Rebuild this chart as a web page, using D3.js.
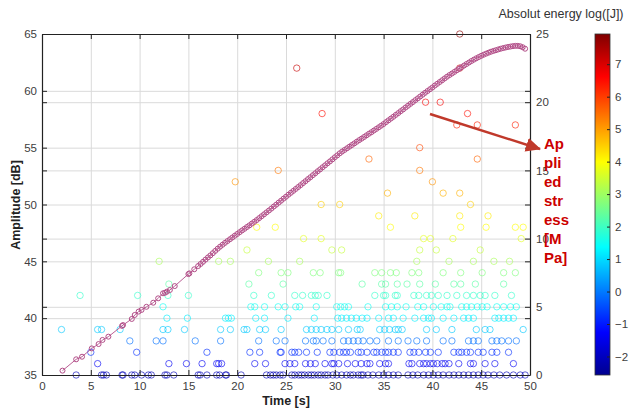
<!DOCTYPE html>
<html>
<head>
<meta charset="utf-8">
<script src="https://d3js.org/d3.v7.min.js"></script>
<style>
body{margin:0;background:#fff;}
svg text{font-family:"Liberation Sans",Arial,sans-serif;}
.grid line{stroke:#dadada;stroke-width:1}
.grid .domain{stroke:none}
.axis text{fill:#404040;font-size:11.5px}
.axis .domain{stroke:#222;stroke-width:1.2}
.axis line{stroke:#222}
.noline .domain{stroke:none}
</style>
</head>
<body>
<svg id="chart" width="630" height="410"></svg>
<script>
// tick values
const timeTicks = [0,5,10,15,20,25,30,35,40,45,50];
const ampTicks = [35,40,45,50,55,60,65];
const stressTicks = [0,5,10,15,20,25];
const energyTicks = [-2,-1,0,1,2,3,4,5,6,7];

// AE hits: times [s] for each amplitude level [dB]
const hits35 = [3.5,6.1,6.3,6.6,8.2,8.3,9.2,9.5,10.2,10.9,11.2,12.6,12.8,13.5,16.0,16.2,16.9,17.9,18.2,18.8,18.9,20.4,23.0,23.4,23.7,24.0,24.4,24.7,25.6,25.9,26.3,26.6,26.9,27.3,27.6,27.9,28.3,28.6,29.0,29.3,29.8,30.2,30.7,31.2,31.6,31.9,32.4,32.7,32.9,33.4,33.9,34.5,35.0,35.5,36.0,36.5,37.5,38.0,38.5,39.1,39.6,40.1,40.6,41.1,41.7,42.2,42.7,43.2,43.7,44.2,44.7,45.2,45.7,46.3,46.9,47.6,48.3,49.0,49.5];
const hits36 = [5.7,13.0,14.8,16.4,17.9,18.1,18.4,21.8,22.9,24.9,25.4,25.9,27.0,27.5,28.0,29.0,29.7,29.9,30.4,31.3,32.1,32.7,33.3,33.6,34.6,35.2,35.5,37.6,37.9,38.7,39.1,39.4,39.8,40.1,40.5,41.0,41.3,41.7,42.7,43.9,44.2,45.4,46.4,48.3];
const hits37 = [5.0,9.7,16.9,21.3,22.3,24.4,24.5,25.6,25.9,26.3,27.1,28.2,29.5,29.9,30.5,30.9,31.2,31.6,32.4,32.7,33.3,34.0,34.3,34.8,35.2,35.5,36.0,36.5,37.7,38.1,38.6,39.3,39.8,40.6,42.2,42.7,43.0,43.5,43.9,44.7,45.2,46.1,46.6,47.8];
const hits38 = [9.0,11.7,12.4,15.7,18.3,22.2,24.0,24.9,27.0,27.8,28.1,28.8,29.7,30.9,31.4,31.9,32.4,32.9,33.6,34.3,35.5,36.5,37.5,38.4,39.4,41.1,42.0,43.7,44.2,44.7,46.1,46.6,47.1,47.8,48.6];
const hits39 = [2.0,5.7,6.1,8.0,12.4,12.9,14.6,18.3,19.3,20.7,21.0,22.3,22.9,24.5,27.1,27.6,28.1,28.6,29.2,29.7,30.4,31.4,32.3,32.6,34.6,35.1,35.6,36.2,36.5,36.9,39.4,40.4,42.0,44.5,45.4,45.9,49.3];
const hits40 = [12.8,14.9,18.8,19.1,19.4,21.9,22.8,25.2,27.9,30.3,30.7,31.2,31.7,32.2,32.8,33.3,34.5,35.5,36.0,37.0,38.2,39.1,39.6,39.9,41.1,42.2,43.2,43.7,44.2,46.4,46.8,47.3,47.8,48.3];
const hits41 = [12.4,21.4,21.8,22.8,24.2,24.9,26.0,26.4,28.1,30.2,30.6,31.0,31.4,33.4,35.2,35.8,36.4,37.3,38.5,39.1,40.1,40.9,41.5,41.8,43.0,43.5,44.0,44.6,45.1,45.6,46.6,47.3,48.0,48.6];
const hits42 = [3.9,9.8,12.9,15.0,21.7,23.5,25.9,26.7,27.6,28.0,28.3,29.2,34.1,35.0,35.2,36.2,36.4,38.1,38.6,39.4,39.9,40.6,41.5,42.5,43.5,44.2,44.9,45.4,46.4,48.1];
const hits43 = [13.0,21.2,24.7,32.8,34.8,35.2,36.4,37.4,38.7,40.3,42.2,42.9,44.4,47.3];
const hits44 = [22.2,24.5,25.2,27.8,28.5,30.4,30.6,34.1,34.8,35.7,36.3,37.9,38.6,41.1,42.9,45.1,47.3,48.5];
const hits45 = [12.0,18.1,19.3,23.2,26.4,38.4,41.7,44.2,46.3,47.9];
const hits46 = [21.0,29.7,30.7,38.7,40.4,44.9];
const hits47 = [26.8,28.6,39.1,39.8,42.1,49.1];
const hits48 = [22.0,23.9,35.7,42.9,45.5,48.5,49.3];
const hits49 = [34.5,38.2,42.8,45.7];
const hits50 = [28.6,30.5,43.9];
const hits51 = [35.4,41.1,42.8];
const hits52 = [19.8,40.0];
const hits53 = [24.2,38.7];
const hits54 = [33.5,44.6];
const hits55 = [38.7];
const hits57 = [42.5,44.6,48.5];
const hits58 = [28.7,43.6];
const hits59 = [39.3,40.8];
const hits62 = [26.1,42.8];
const hits65 = [42.8];

const rowAmps   = [35,36,37,38,39,40,41,42,43,44,45,46,47,48,49,50,51,52,53,54,55,57,58,59,62,65];
const rowEnergy = [-2.1,-1.4,-0.8,-0.1,0.8,1.2,1.5,1.9,2.3,2.7,3.1,3.4,3.7,4.0,4.2,4.5,4.8,5.1,5.4,5.6,5.9,6.3,6.5,6.7,7.2,7.8];
const rowTimes  = [hits35,hits36,hits37,hits38,hits39,hits40,hits41,hits42,hits43,hits44,hits45,hits46,hits47,hits48,hits49,hits50,hits51,hits52,hits53,hits54,hits55,hits57,hits58,hits59,hits62,hits65];

// applied stress [MPa] vs time [s]
const stressCurve = [[2.1,0.32],[3.5,1.15],[4.1,1.34],[5.1,1.95],[5.8,2.27],[6.2,2.57],[6.8,2.81],[8.2,3.60],[8.3,3.66],[9.2,4.11],[9.5,4.40],[9.9,4.65],[10.2,4.77],[10.7,5.00],[11.4,5.30],[11.9,5.62],[12.4,5.99],[12.6,6.03],[12.8,6.11],[13.1,6.23],[13.6,6.52],[15.0,7.40],[15.1,7.45],[15.6,7.75],
[16.0,7.99],[16.25,8.14],[16.5,8.30],[16.75,8.46],[17.0,8.62],[17.25,8.77],[17.5,8.93],[17.75,9.10],[18.0,9.26],[18.25,9.41],[18.5,9.55],[18.75,9.69],[19.0,9.82],[19.25,9.95],[19.5,10.08],[19.75,10.21],
[20.0,10.34],[20.25,10.47],[20.5,10.60],[20.75,10.72],[21.0,10.85],[21.25,10.97],[21.5,11.10],[21.75,11.23],[22.0,11.36],[22.25,11.50],[22.5,11.64],[22.75,11.78],[23.0,11.92],[23.25,12.06],[23.5,12.20],[23.75,12.35],
[24.0,12.49],[24.25,12.64],[24.5,12.78],[24.75,12.93],[25.0,13.07],[25.25,13.22],[25.5,13.36],[25.75,13.50],[26.0,13.64],[26.25,13.78],[26.5,13.92],[26.75,14.07],[27.0,14.21],[27.25,14.36],[27.5,14.50],[27.75,14.65],
[28.0,14.79],[28.25,14.94],[28.5,15.08],[28.75,15.23],[29.0,15.37],[29.25,15.52],[29.5,15.66],[29.75,15.81],[30.0,15.96],[30.25,16.10],[30.5,16.25],[30.75,16.38],[31.0,16.50],[31.25,16.62],[31.5,16.74],[31.75,16.86],
[32.0,16.98],[32.25,17.10],[32.5,17.22],[32.75,17.33],[33.0,17.45],[33.25,17.57],[33.5,17.69],[33.75,17.80],[34.0,17.92],[34.25,18.04],[34.5,18.16],[34.75,18.28],[35.0,18.40],[35.25,18.54],[35.5,18.67],[35.75,18.80],
[36.0,18.93],[36.25,19.07],[36.5,19.20],[36.75,19.34],[37.0,19.47],[37.25,19.61],[37.5,19.74],[37.75,19.88],[38.0,20.01],[38.25,20.15],[38.5,20.28],[38.75,20.42],[39.0,20.55],[39.25,20.69],[39.5,20.82],[39.75,20.95],
[40.0,21.08],[40.25,21.22],[40.5,21.35],[40.75,21.48],[41.0,21.61],[41.25,21.74],[41.5,21.87],[41.75,21.99],[42.0,22.10],[42.25,22.22],[42.5,22.34],[42.75,22.46],[43.0,22.57],[43.25,22.69],[43.5,22.80],[43.75,22.91],
[44.0,23.02],[44.25,23.12],[44.5,23.22],[44.75,23.31],[45.0,23.40],[45.25,23.48],[45.5,23.56],[45.75,23.63],[46.0,23.70],[46.25,23.76],[46.5,23.81],[46.75,23.87],[47.0,23.92],[47.25,23.97],[47.5,24.01],[47.75,24.05],
[48.0,24.08],[48.25,24.11],[48.5,24.13],[48.75,24.13],[49.0,24.10],[49.25,24.03],[49.5,23.92]];

const annotationLines = ["Ap","pli","ed","str","ess","[M","Pa]"];

const svg = d3.select("#chart");
const plotLeft = 42, plotRight = 530, plotTop = 34, plotBottom = 375;

const x = d3.scaleLinear().domain([0,50]).range([plotLeft,plotRight]);
const yAmp = d3.scaleLinear().domain([35,65]).range([plotBottom,plotTop]);
const yStress = d3.scaleLinear().domain([0,25]).range([plotBottom,plotTop]);
const eMin = -2.57, eMax = 7.93;
const yEnergy = d3.scaleLinear().domain([eMin,eMax]).range([plotBottom,plotTop]);
const jetStops = [0,0.125,0.375,0.625,0.875,1];
const jet = d3.scaleLinear()
    .domain(jetStops.map(f => eMin + f*(eMax-eMin)))
    .range(["#00008f","#0000ff","#00ffff","#ffff00","#ff0000","#800000"])
    .clamp(true);

// gridlines
svg.append("g").attr("class","grid")
    .attr("transform",`translate(0,${plotBottom})`)
    .call(d3.axisBottom(x).tickValues(timeTicks.slice(1,-1)).tickSize(-(plotBottom-plotTop)).tickFormat(""));
svg.append("g").attr("class","grid")
    .attr("transform",`translate(${plotLeft},0)`)
    .call(d3.axisLeft(yAmp).tickValues(ampTicks.slice(1,-1)).tickSize(-(plotRight-plotLeft)).tickFormat(""));
svg.append("g").attr("class","grid")
    .attr("transform",`translate(${plotLeft},0)`)
    .call(d3.axisLeft(yStress).tickValues(stressTicks.slice(1,-1)).tickSize(-(plotRight-plotLeft)).tickFormat(""));

// AE hits
const hits = [];
rowTimes.forEach((ts,i) => ts.forEach(t => hits.push({t:t, a:rowAmps[i], e:rowEnergy[i]})));
svg.append("g").selectAll("circle").data(hits).join("circle")
    .attr("cx", d => x(d.t))
    .attr("cy", d => yAmp(d.a))
    .attr("r", 3.2)
    .attr("fill","none")
    .attr("stroke", d => jet(d.e))
    .attr("stroke-opacity", 0.62)
    .attr("stroke-width", 1);

// stress curve
const stressColor = "#b24d88";
const line = d3.line().x(d => x(d[0])).y(d => yStress(d[1]));
svg.append("path").datum(stressCurve)
    .attr("d", line).attr("fill","none")
    .attr("stroke", stressColor).attr("stroke-width", 0.9);
svg.append("g").selectAll("circle").data(stressCurve).join("circle")
    .attr("cx", d => x(d[0]))
    .attr("cy", d => yStress(d[1]))
    .attr("r", 2.5)
    .attr("fill","none")
    .attr("stroke", stressColor)
    .attr("stroke-width", 1);

// axes (MATLAB style, ticks inside)
svg.append("g").attr("class","axis")
    .attr("transform",`translate(0,${plotBottom})`)
    .call(d3.axisBottom(x).tickValues(timeTicks).tickSizeInner(-5).tickSizeOuter(0).tickPadding(7));
svg.append("g").attr("class","axis")
    .attr("transform",`translate(0,${plotTop})`)
    .call(d3.axisTop(x).tickValues(timeTicks).tickSizeInner(-5).tickSizeOuter(0).tickFormat(""));
svg.append("g").attr("class","axis")
    .attr("transform",`translate(${plotLeft},0)`)
    .call(d3.axisLeft(yAmp).tickValues(ampTicks).tickSizeInner(-5).tickSizeOuter(0).tickPadding(5));
svg.append("g").attr("class","axis noline")
    .attr("transform",`translate(${plotLeft},0)`)
    .call(d3.axisLeft(yStress).tickValues(stressTicks).tickSizeInner(-5).tickSizeOuter(0).tickFormat(""));
svg.append("g").attr("class","axis")
    .attr("transform",`translate(${plotRight},0)`)
    .call(d3.axisRight(yStress).tickValues(stressTicks).tickSizeInner(-5).tickSizeOuter(0).tickPadding(6));
svg.append("g").attr("class","axis noline")
    .attr("transform",`translate(${plotRight},0)`)
    .call(d3.axisRight(yAmp).tickValues(ampTicks).tickSizeInner(-5).tickSizeOuter(0).tickFormat(""));

// axis titles
svg.append("text").attr("x", 286).attr("y", 405)
    .attr("text-anchor","middle").attr("font-weight","bold")
    .attr("font-size", 12.5).attr("fill","#222").text("Time [s]");
svg.append("text").attr("transform","translate(20,205) rotate(-90)")
    .attr("text-anchor","middle").attr("font-weight","bold")
    .attr("font-size", 12.5).attr("fill","#222").text("Amplitude [dB]");

// colorbar
const cbX = 595, cbW = 15;
const grad = svg.append("defs").append("linearGradient")
    .attr("id","jetGrad").attr("x1",0).attr("y1",1).attr("x2",0).attr("y2",0);
grad.selectAll("stop").data(jetStops).join("stop")
    .attr("offset", d => d)
    .attr("stop-color", d => jet(eMin + d*(eMax-eMin)));
svg.append("rect").attr("x", cbX).attr("y", plotTop)
    .attr("width", cbW).attr("height", plotBottom-plotTop)
    .attr("fill","url(#jetGrad)").attr("stroke","#333").attr("stroke-width",0.8);
svg.append("g").attr("class","axis noline")
    .attr("transform",`translate(${cbX+cbW},0)`)
    .call(d3.axisRight(yEnergy).tickValues(energyTicks).tickSizeInner(-3).tickSizeOuter(0).tickPadding(5));
svg.append("text").attr("x", 561).attr("y", 18)
    .attr("text-anchor","middle").attr("font-size", 12.5).attr("fill","#333")
    .text("Absolut energy log([J])");

// annotation arrow and label
const red = "#c0392b";
svg.append("defs").append("marker")
    .attr("id","arrowHead").attr("markerUnits","userSpaceOnUse")
    .attr("markerWidth",16).attr("markerHeight",16)
    .attr("refX",14).attr("refY",8).attr("orient","auto")
    .append("path").attr("d","M0,1 L15,8 L0,15 Z").attr("fill",red);
svg.append("line").attr("x1",430).attr("y1",114).attr("x2",540).attr("y2",149)
    .attr("stroke",red).attr("stroke-width",2.4).attr("marker-end","url(#arrowHead)");
svg.append("text").attr("x",544).attr("y",149)
    .attr("font-weight","bold").attr("font-size",15).attr("fill","#cc0000")
    .selectAll("tspan").data(annotationLines).join("tspan")
    .attr("x",544).attr("dy",(d,i) => i === 0 ? 0 : 19).text(d => d);
</script>
</body>
</html>
